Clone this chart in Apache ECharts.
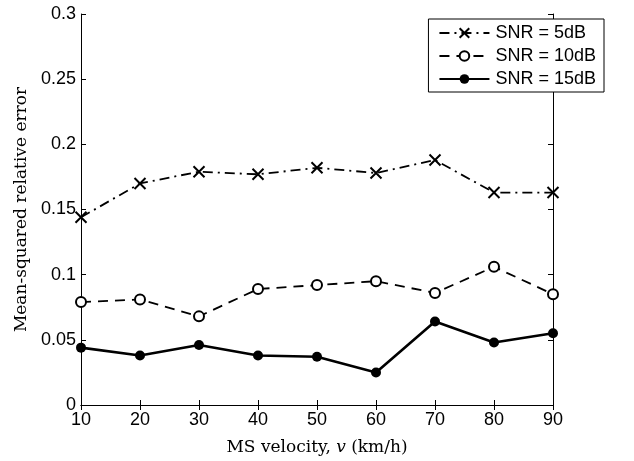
<!DOCTYPE html>
<html>
<head>
<meta charset="utf-8">
<script src="https://cdn.jsdelivr.net/npm/echarts@6/dist/echarts.min.js"></script>
<style>
  html, body { margin: 0; padding: 0; background: #fff; }
  #chart { width: 634px; height: 461px; }
</style>
</head>
<body>
<div id="chart"></div>
<script>
// velocities (km/h)
const velocity = [10, 20, 30, 40, 50, 60, 70, 80, 90];
// mean-squared relative error per SNR
const snr5 = [0.144, 0.170, 0.179, 0.177, 0.182, 0.178, 0.188, 0.163, 0.163];
const snr10 = [0.079, 0.081, 0.068, 0.089, 0.092, 0.095, 0.086, 0.106, 0.085];
const snr15 = [0.044, 0.038, 0.046, 0.038, 0.037, 0.025, 0.064, 0.048, 0.055];
const seriesNames = ['SNR = 5dB', 'SNR = 10dB', 'SNR = 15dB'];

const tickFont = { fontFamily: 'Liberation Sans, Arial, sans-serif', fontSize: 18, color: '#000' };
const crossPath = 'path://M0,0L10,10M10,0L0,10';

const chart = echarts.init(document.getElementById('chart'));

function pairs(ys) {
  return velocity.map((v, i) => [v, ys[i]]);
}

const option = {
  animation: false,
  backgroundColor: '#fff',
  grid: { left: 81, right: 81, top: 14, bottom: 53 },
  legend: {
    right: 30, top: 19,
    orient: 'vertical',
    align: 'left',
    backgroundColor: '#fff',
    borderColor: '#000',
    borderWidth: 1,
    borderRadius: 0,
    padding: [5, 8, 4, 10],
    itemGap: 5,
    itemWidth: 50,
    itemHeight: 12,
    textStyle: { fontFamily: 'Liberation Sans, Arial, sans-serif', fontSize: 18, color: '#000', padding: [0, 0, 0, 1] },
    data: seriesNames
  },
  xAxis: [{
    type: 'value', min: 10, max: 90, interval: 10,
    name: '{r|MS velocity, }{i|v}{r| (km/h)}',
    nameLocation: 'middle', nameGap: 34,
    nameTextStyle: {
      rich: {
        r: { fontFamily: 'DejaVu Serif, serif', fontSize: 17, color: '#000' },
        i: { fontFamily: 'DejaVu Serif, serif', fontStyle: 'italic', fontSize: 17, color: '#000' }
      }
    },
    axisLine: { show: true, lineStyle: { color: '#000', width: 1 } },
    axisTick: { inside: true, length: 5, lineStyle: { color: '#000' } },
    axisLabel: Object.assign({ margin: 6 }, tickFont),
    splitLine: { show: false }
  }, {
    type: 'value', min: 10, max: 90, interval: 10, position: 'top',
    axisLine: { show: true, lineStyle: { color: '#000', width: 1 } },
    axisTick: { inside: true, length: 5, lineStyle: { color: '#000' } },
    axisLabel: { show: false },
    splitLine: { show: false }
  }],
  yAxis: [{
    type: 'value', min: 0, max: 0.3, interval: 0.05,
    name: 'Mean-squared relative error',
    nameLocation: 'middle', nameGap: 50,
    nameTextStyle: { fontFamily: 'DejaVu Serif, serif', fontSize: 17, color: '#000' },
    axisLine: { show: true, lineStyle: { color: '#000', width: 1 } },
    axisTick: { inside: true, length: 5, lineStyle: { color: '#000' } },
    axisLabel: Object.assign({ margin: 5 }, tickFont),
    splitLine: { show: false }
  }, {
    type: 'value', min: 0, max: 0.3, interval: 0.05, position: 'right',
    axisLine: { show: true, lineStyle: { color: '#000', width: 1 } },
    axisTick: { inside: true, length: 5, lineStyle: { color: '#000' } },
    axisLabel: { show: false },
    splitLine: { show: false }
  }],
  series: [{
    name: seriesNames[0], type: 'line',
    data: pairs(snr5),
    symbol: crossPath, symbolSize: 11,
    itemStyle: { color: 'rgba(0,0,0,0)', borderColor: '#000', borderWidth: 2 },
    lineStyle: { color: '#000', width: 1.8, type: [10, 5, 2, 5] },
    emphasis: { disabled: true }
  }, {
    name: seriesNames[1], type: 'line',
    data: pairs(snr10),
    symbol: 'emptyCircle', symbolSize: 10,
    itemStyle: { color: '#000', borderColor: '#000', borderWidth: 2 },
    lineStyle: { color: '#000', width: 1.8, type: [10, 7] },
    emphasis: { disabled: true }
  }, {
    name: seriesNames[2], type: 'line',
    data: pairs(snr15),
    symbol: 'circle', symbolSize: 10,
    itemStyle: { color: '#000' },
    lineStyle: { color: '#000', width: 2.6, type: 'solid' },
    emphasis: { disabled: true }
  }]
};

chart.setOption(option);
window.addEventListener('resize', () => { chart.resize(); });
</script>
</body>
</html>
